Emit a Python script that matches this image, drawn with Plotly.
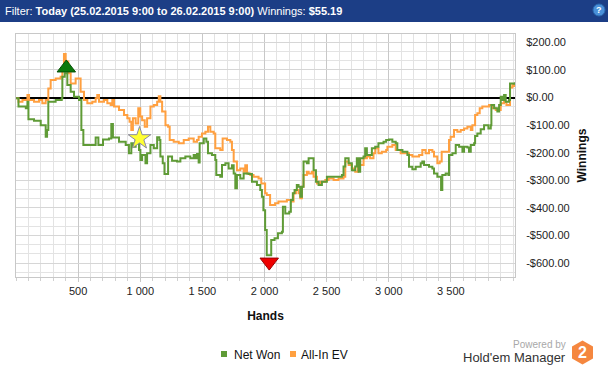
import plotly.graph_objects as go

# ---------------- data ----------------
net_hands = [0, 20, 79, 92, 100, 145, 199, 239, 250, 260, 319, 368, 373, 392, 413, 440, 467, 507, 526, 542,
             628, 641, 663, 700, 748, 767, 780, 829, 883, 909, 928, 944, 963, 990,
             1001, 1015, 1042, 1055, 1082, 1109, 1136, 1154, 1162, 1181, 1195, 1216, 1224, 1256, 1296, 1323,
             1363, 1403, 1430, 1444, 1457, 1470, 1478, 1511, 1532, 1545, 1577, 1604, 1612, 1644, 1658, 1685,
             1711, 1738, 1752, 1765, 1778, 1805, 1832, 1872, 1899, 1939, 1966, 1979, 1991,
             2005, 2018, 2045, 2054, 2081, 2108, 2140, 2148, 2167, 2199, 2212, 2228, 2242, 2260, 2274, 2288,
             2301, 2314, 2341, 2355, 2382, 2395, 2414, 2435, 2462, 2502, 2542, 2596, 2623, 2636, 2650, 2677,
             2703, 2730, 2743, 2757, 2770, 2797, 2810, 2824, 2850, 2864, 2891, 2917, 2958, 2979,
             3002, 3029, 3056, 3069, 3110, 3150, 3163, 3190, 3217, 3257, 3270, 3284, 3324, 3351, 3364, 3391,
             3410, 3421, 3431, 3458, 3480, 3485, 3512, 3539, 3566, 3593, 3606, 3633, 3646, 3660, 3687, 3695,
             3713, 3740, 3767, 3802, 3821, 3826, 3848, 3874, 3888, 3901, 3915, 3928, 3941, 3955, 3968, 3976,
             3995, 4008, 4016]
net_won = [-3, -33, -39, -15, -79, -84, -100, -142, -118, -15, -9, -3, 75, 88, 45, 21, 3, -9, -118, -172,
           -172, -145, -172, -152, -148, -96, -145, -160, -172, -202, -166, -178, -154, -190,
           -226, -208, -238, -202, -172, -184, -144, -154, -214, -238, -277, -277, -214, -229, -232, -220,
           -214, -220, -208, -220, -205, -235, -166, -148, -160, -202, -208, -226, -281, -287, -244, -238,
           -257, -245, -275, -329, -281, -293, -275, -277, -305, -317, -335, -359, -408,
           -480, -571, -571, -516, -510, -492, -486, -396, -420, -414, -371, -347, -335, -317, -323, -359,
           -323, -232, -238, -220, -220, -263, -305, -317, -305, -287, -287, -287, -281, -250, -220, -238,
           -263, -250, -220, -269, -220, -214, -184, -208, -208, -184, -178, -166, -160, -154,
           -152, -160, -166, -190, -196, -208, -251, -260, -251, -238, -232, -244, -251, -257, -275, -287,
           -287, -335, -281, -275, -281, -208, -202, -172, -178, -196, -178, -181, -196, -172, -166, -139,
           -130, -115, -100, -112, -100, -27, -39, -51, -27, 3, -9, 9, -15, -15, -9, 51,
           51, 50, 55.19]

ev_hands = [0, 20, 52, 79, 92, 105, 145, 185, 212, 239, 260, 279, 319, 359, 373, 386, 400, 421, 440, 467,
            480, 507, 520, 547, 574, 614, 641, 654, 668, 708, 735, 762, 775, 789, 829, 869, 896, 914, 928,
            941, 963, 984,
            1000, 1015, 1036, 1055, 1082, 1109, 1136, 1149, 1162, 1176, 1203, 1224, 1237, 1269, 1310, 1350,
            1390, 1430, 1457, 1470, 1497, 1524, 1545, 1564, 1591, 1604, 1644, 1663, 1698, 1725, 1738, 1752,
            1778, 1805, 1832, 1845, 1859, 1886, 1912, 1952, 1974,
            2005, 2018, 2045, 2085, 2112, 2153, 2180, 2220, 2234, 2253, 2274, 2288, 2301, 2314, 2341, 2355,
            2382, 2395, 2422, 2449, 2489, 2516, 2556, 2596, 2636, 2650, 2677, 2703, 2730, 2752, 2770, 2797,
            2824, 2850, 2877, 2891, 2917, 2944, 2979,
            2989, 3029, 3056, 3096, 3136, 3163, 3190, 3217, 3244, 3270, 3297, 3324, 3351, 3364, 3391, 3410,
            3426, 3458, 3485, 3498, 3525, 3552, 3579, 3606, 3633, 3660, 3673, 3695, 3713, 3732, 3753, 3780,
            3807, 3834, 3861, 3888, 3901, 3928, 3947, 3968, 3976, 3995, 4008, 4016]
all_in_ev = [-3, -15, -9, -9, 9, -9, -15, -9, -21, -9, 33, 63, 69, 75, 100, 158, 130, 88, 51, 51,
             69, 69, 21, -9, -21, -15, -3, 9, -15, -9, -21, -27, -9, -33, -45, -63, -75, -88, -118,
             -75, -94, -39,
             -69, -82, -106, -75, -33, -27, -15, 5, -15, -51, -100, -106, -154, -160, -166, -154,
             -148, -160, -154, -142, -130, -124, -106, -124, -130, -184, -190, -148, -154, -160, -190, -232,
             -263, -257, -269, -245, -275, -281, -287, -293, -311,
             -347, -353, -389, -383, -377, -377, -371, -377, -347, -335, -347, -365, -323, -281, -269, -275,
             -269, -287, -311, -305, -299, -293, -299, -293, -287, -232, -244, -257, -269, -232, -244, -220,
             -214, -220, -202, -184, -202, -196, -190,
             -178, -172, -190, -202, -202, -208, -214, -214, -208, -190, -202, -190, -196, -214, -238, -232,
             -196, -196, -154, -142, -118, -124, -118, -112, -106, -118, -100, -63, -57, -39, -33, -33,
             -27, -39, -45, -45, -21, -15, -27, -27, 36, 45, 42, 44]

max_point = (405, 107)      # best Net Won
star_point = (994, -148)
min_point = (2038, -596)    # worst Net Won

x_tickvals = [500, 1000, 1500, 2000, 2500, 3000, 3500]
x_ticktext = ["500", "1 000", "1 500", "2 000", "2 500", "3 000", "3 500"]
y_tickvals = [200, 100, 0, -100, -200, -300, -400, -500, -600]
y_ticktext = ["$200.00", "$100.00", "$0.00", "-$100.00", "-$200.00", "-$300.00", "-$400.00", "-$500.00", "-$600.00"]

title_text = "Filter: <b>Today (25.02.2015 9:00 to 26.02.2015 9:00)</b> Winnings: <b>$55.19</b>"

# ---------------- layout helpers ----------------
W, H = 608, 369
L, R, T, B = 16, 93, 34, 92
PW, PH = W - L - R, H - T - B


def px(x):
    return (x - L) / PW


def py(y):
    return (H - B - y) / PH


GREEN = "#5f9b36"
ORANGE = "#ffa040"
FONT = "Liberation Sans"

fig = go.Figure()

fig.add_trace(go.Scatter(x=ev_hands, y=all_in_ev, mode="lines", line=dict(color=ORANGE, width=2, shape="hv"),
                         showlegend=False, hoverinfo="skip"))
fig.add_trace(go.Scatter(x=net_hands, y=net_won, mode="lines", line=dict(color=GREEN, width=2, shape="hv"),
                         showlegend=False, hoverinfo="skip"))

fig.add_trace(go.Scatter(x=[max_point[0]], y=[max_point[1]], mode="markers", showlegend=False,
                         marker=dict(symbol="triangle-up", size=16, color="#0b7a0b",
                                     line=dict(color="#055005", width=1))))
fig.add_trace(go.Scatter(x=[star_point[0]], y=[star_point[1]], mode="markers", showlegend=False,
                         marker=dict(symbol="star", size=17, color="#ffff33",
                                     line=dict(color="#8a8aa0", width=1))))
fig.add_trace(go.Scatter(x=[min_point[0]], y=[min_point[1]], mode="markers", showlegend=False,
                         marker=dict(symbol="triangle-down", size=16, color="#ee0000",
                                     line=dict(color="#990000", width=1))))

# legend entries (text in two legends; coloured squares drawn next to them)
fig.add_trace(go.Scatter(x=[None], y=[None], mode="markers", name="Net Won", legend="legend",
                         marker=dict(symbol="square", size=7, color="rgba(0,0,0,0)")))
fig.add_trace(go.Scatter(x=[None], y=[None], mode="markers", name="All-In EV", legend="legend2",
                         marker=dict(symbol="square", size=7, color="rgba(0,0,0,0)")))

shapes = [
    dict(type="rect", xref="paper", yref="paper", x0=px(0), x1=px(W), y0=py(22), y1=py(0),
         fillcolor="#1c3e86", line=dict(width=0), layer="below"),
    dict(type="circle", xref="paper", yref="paper", x0=px(593), x1=px(605), y0=py(16), y1=py(4),
         fillcolor="#4a90d9", line=dict(color="#2a6ab0", width=1)),
    dict(type="rect", xref="paper", yref="paper", x0=px(221), x1=px(227), y0=py(357), y1=py(351),
         fillcolor=GREEN, line=dict(width=0)),
    dict(type="rect", xref="paper", yref="paper", x0=px(290), x1=px(296), y0=py(357), y1=py(351),
         fillcolor=ORANGE, line=dict(width=0)),
]
hx, hy, hw, hh = 582.5, 352.5, 10.5, 12
hexpts = [(hx, hy - hh), (hx + hw, hy - hh / 2), (hx + hw, hy + hh / 2), (hx, hy + hh),
          (hx - hw, hy + hh / 2), (hx - hw, hy - hh / 2)]
path = "M " + " L ".join(f"{px(a):.5f},{py(b):.5f}" for a, b in hexpts) + " Z"
shapes.append(dict(type="path", xref="paper", yref="paper", path=path, fillcolor="#f5873f",
                   line=dict(width=0)))

annotations = [
    dict(text=title_text, xref="paper", yref="paper", x=px(3), y=py(11), xanchor="left", yanchor="middle",
         showarrow=False, font=dict(family=FONT, size=11, color="white")),
    dict(text="<b>?</b>", xref="paper", yref="paper", x=px(599), y=py(10), xanchor="center", yanchor="middle",
         showarrow=False, font=dict(family=FONT, size=9, color="white")),
    dict(text="Powered by", xref="paper", yref="paper", x=px(568), y=py(344), xanchor="right", yanchor="middle",
         showarrow=False, font=dict(family=FONT, size=10, color="#a8a8a8")),
    dict(text="Hold'em Manager", xref="paper", yref="paper", x=px(568), y=py(357), xanchor="right",
         yanchor="middle", showarrow=False, font=dict(family=FONT, size=13, color="#333333")),
    dict(text="<b>2</b>", xref="paper", yref="paper", x=px(hx), y=py(hy), xanchor="center", yanchor="middle",
         showarrow=False, font=dict(family=FONT, size=16, color="white")),
]

legend_style = dict(orientation="h", yanchor="middle", y=py(354), xanchor="left",
                    font=dict(family=FONT, size=12, color="#111111"), itemwidth=30,
                    bgcolor="rgba(0,0,0,0)")

fig.update_layout(
    width=W, height=H,
    margin=dict(l=L, r=R, t=T, b=B, pad=0, autoexpand=False),
    paper_bgcolor="white", plot_bgcolor="white",
    font=dict(family=FONT, size=11, color="#222222"),
    shapes=shapes, annotations=annotations,
    showlegend=True,
    legend=dict(x=px(194), **legend_style),
    legend2=dict(x=px(261), **legend_style),
    xaxis=dict(range=[0, 4016], tickmode="array", tickvals=x_tickvals, ticktext=x_ticktext, automargin=False,
               showgrid=True, gridcolor="#c8c8c8", gridwidth=1,
               ticks="outside", ticklen=4, tickcolor="#c8c8c8",
               minor=dict(dtick=100, tick0=0, showgrid=True, gridcolor="#e3e3e3", ticks="outside",
                          ticklen=3, tickcolor="#d0d0d0"),
               showline=True, linecolor="#c8c8c8", mirror=True, zeroline=False,
               tickfont=dict(family=FONT, size=11, color="#222222"),
               title=dict(text="<b>Hands</b>", font=dict(family=FONT, size=12, color="#111111"))),
    yaxis=dict(range=[-650, 230], side="right", tickmode="array", tickvals=y_tickvals, ticktext=y_ticktext,
               automargin=True,
               showgrid=True, gridcolor="#d6d6d6", gridwidth=1, ticks="",
               minor=dict(dtick=100 / 3, tick0=0, showgrid=True, gridcolor="#e3e3e3"),
               showline=True, linecolor="#c8c8c8", mirror=True,
               zeroline=True, zerolinecolor="#000000", zerolinewidth=2,
               ticklabelstandoff=8,
               tickfont=dict(family=FONT, size=11, color="#222222"),
               title=dict(text="<b>Winnings</b>", font=dict(family=FONT, size=12, color="#111111"), standoff=8)),
)

fig.write_html("out.html", config={"displayModeBar": False},
               post_script="document.body.style.margin='0';")
